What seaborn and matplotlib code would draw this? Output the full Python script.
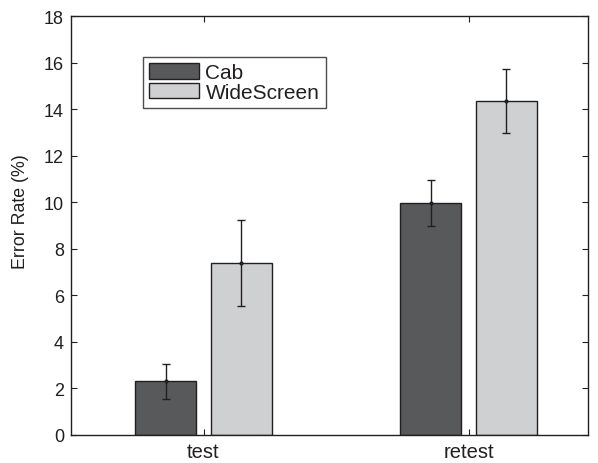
import matplotlib
matplotlib.use("Agg")
import matplotlib.pyplot as plt
import seaborn as sns
import pandas as pd
import numpy as np

sessions = ["test", "retest"]
devices = ["Cab", "WideScreen"]
cab_means = [2.30, 9.97]
wide_means = [7.39, 14.37]
cab_err = [0.76, 1.00]
wide_err = [1.86, 1.37]
yticks = [0, 2, 4, 6, 8, 10, 12, 14, 16, 18]

sns.set_theme(style="white")
plt.rcParams['font.family'] = ['Liberation Sans', 'DejaVu Sans']

df = pd.DataFrame({
    "session": sessions * 2,
    "device": [devices[0]] * 2 + [devices[1]] * 2,
    "rate": cab_means + wide_means,
    "err": cab_err + wide_err,
})

fig = plt.figure(figsize=(5.98, 4.64), dpi=100)
ax = fig.add_axes([0.1187, 0.061, 0.8643, 0.9015])

palette = {"Cab": "#58595b", "WideScreen": "#cfd0d2"}
sns.barplot(data=df, x="session", y="rate", hue="device", order=sessions,
            hue_order=devices, palette=palette, width=0.572, gap=0.196,
            edgecolor="#231f20", linewidth=1.0, errorbar=None, ax=ax,
            saturation=1.0)

# error bars at bar centres
for container, dev in zip(ax.containers, devices):
    sub = df[df.device == dev].set_index("session").loc[sessions]
    xs = [p.get_x() + p.get_width() / 2 for p in container.patches]
    ax.errorbar(xs, sub["rate"].values, yerr=sub["err"].values, fmt=".",
                color="#231f20", markersize=4, elinewidth=1.0, capsize=3,
                capthick=1.0)

ax.set_ylim(0, 18)
ax.set_xlim(-0.5, 1.45)
ax.set_yticks(yticks)
ax.set_yticklabels([str(t) for t in yticks])
ax.set_xlabel("")
ax.set_ylabel("Error Rate (%)", fontsize=12.8, color="#231f20")
ax.yaxis.set_label_coords(-0.082, 0.535)
ax.tick_params(axis="both", direction="in", length=4, width=0.8,
               colors="#231f20", top=True, right=True,
               left=True, bottom=True, labelcolor="#231f20")
ax.tick_params(axis="y", pad=5, labelsize=13)
ax.tick_params(axis="x", pad=5, labelsize=14.5)
for s in ax.spines.values():
    s.set_visible(True)
    s.set_color("#231f20")
    s.set_linewidth(1.0)

leg = ax.legend(loc="upper left", bbox_to_anchor=(0.1393, 0.903), fontsize=15,
                frameon=True, fancybox=False, edgecolor="#231f20",
                borderpad=0.3, labelspacing=0.03, handlelength=2.4,
                handleheight=0.75, handletextpad=0.3, borderaxespad=0)
leg.get_frame().set_linewidth(1.0)
for t in leg.get_texts():
    t.set_color("#231f20")

fig.savefig("out.png", dpi=100)
